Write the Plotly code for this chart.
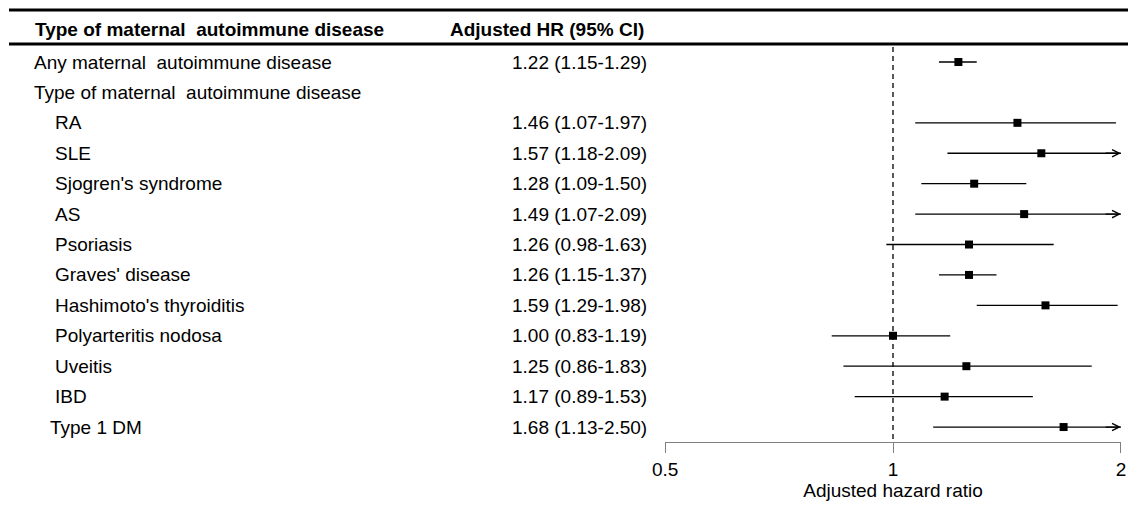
import math
import plotly.graph_objects as go

# ---------------- data ----------------
labels = [
    "Any maternal\u00a0 autoimmune disease",
    "Type of maternal\u00a0 autoimmune disease",
    "RA",
    "SLE",
    "Sjogren's syndrome",
    "AS",
    "Psoriasis",
    "Graves' disease",
    "Hashimoto's thyroiditis",
    "Polyarteritis nodosa",
    "Uveitis",
    "IBD",
    "Type 1 DM",
]
hr = [1.22, None, 1.46, 1.57, 1.28, 1.49, 1.26, 1.26, 1.59, 1.00, 1.25, 1.17, 1.68]
ci_low = [1.15, None, 1.07, 1.18, 1.09, 1.07, 0.98, 1.15, 1.29, 0.83, 0.86, 0.89, 1.13]
ci_high = [1.29, None, 1.97, 2.09, 1.50, 2.09, 1.63, 1.37, 1.98, 1.19, 1.83, 1.53, 2.50]
hr_text = [
    "1.22 (1.15-1.29)", "", "1.46 (1.07-1.97)", "1.57 (1.18-2.09)",
    "1.28 (1.09-1.50)", "1.49 (1.07-2.09)", "1.26 (0.98-1.63)",
    "1.26 (1.15-1.37)", "1.59 (1.29-1.98)", "1.00 (0.83-1.19)",
    "1.25 (0.86-1.83)", "1.17 (0.89-1.53)", "1.68 (1.13-2.50)",
]
tick_vals = [0.5, 1, 2]
tick_text = ["0.5", "1", "2"]
x_min, x_max = 0.5, 2.0
header_left = "Type of maternal\u00a0 autoimmune disease"
header_mid = "Adjusted HR (95% CI)"
x_title = "Adjusted hazard ratio"

# ---------------- layout geometry ----------------
W, H = 1128, 527
FIRST_PX, ROW_PX, AXIS_PX = 62.0, 30.42, 442.0
def row_of(px):
    return (px - FIRST_PX) / ROW_PX

label_px = [32, 32, 53, 53, 53, 53, 53, 53, 53, 53, 53, 53, 48]
FONT = "Liberation Sans, Arial, Helvetica, sans-serif"
FS = 19
EPS = 1e-4
rows = list(range(len(labels)))

fig = go.Figure()

# reference dashed line at 1
fig.add_trace(go.Scatter(
    x=[1, 1], y=[row_of(47), row_of(AXIS_PX)], mode="lines",
    line=dict(color="black", width=1.3, dash="5px,4px"),
    hoverinfo="skip", showlegend=False, cliponaxis=False))

# CI lines
for i in rows:
    if hr[i] is None:
        continue
    lo = max(ci_low[i], x_min)
    hi = min(ci_high[i], x_max)
    fig.add_trace(go.Scatter(
        x=[lo, hi], y=[i, i], mode="lines",
        line=dict(color="black", width=1.3),
        hoverinfo="skip", showlegend=False, cliponaxis=False))
    if ci_high[i] > x_max:
        fig.add_annotation(
            x=math.log10(x_max), y=i, ax=math.log10(x_max * 0.95), ay=i,
            xref="x", yref="y", axref="x", ayref="y", text="",
            showarrow=True, arrowhead=5, arrowsize=1.1, arrowwidth=1.3,
            arrowcolor="black")

# point estimates
pts = [i for i in rows if hr[i] is not None]
fig.add_trace(go.Scatter(
    x=[hr[i] for i in pts], y=pts, mode="markers",
    marker=dict(symbol="square", size=8, color="black"),
    hoverinfo="skip", showlegend=False, cliponaxis=False))

# text columns
for i in rows:
    fig.add_annotation(
        x=label_px[i] / W, y=i, xref="paper", yref="y", text=labels[i],
        showarrow=False, xanchor="left", yanchor="middle",
        font=dict(family=FONT, size=FS, color="black"))
    if hr_text[i]:
        fig.add_annotation(
            x=649 / W, y=i, xref="paper", yref="y", text=hr_text[i],
            showarrow=False, xanchor="right", yanchor="middle",
            font=dict(family=FONT, size=FS, color="black"))

# headers
hdr_row = row_of(29)
fig.add_annotation(x=33 / W, y=hdr_row, xref="paper", yref="y",
                   text="<b>" + header_left + "</b>", showarrow=False,
                   xanchor="left", yanchor="middle",
                   font=dict(family=FONT, size=FS, color="black"))
fig.add_annotation(x=448 / W, y=hdr_row, xref="paper", yref="y",
                   text="<b>" + header_mid + "</b>", showarrow=False,
                   xanchor="left", yanchor="middle",
                   font=dict(family=FONT, size=FS, color="black"))

# horizontal rules
for py in (10, 44):
    fig.add_shape(type="line", xref="paper", yref="paper",
                  x0=9 / W, x1=1, y0=1 - py / H, y1=1 - py / H,
                  line=dict(color="black", width=3))

fig.update_layout(
    width=W, height=H,
    margin=dict(l=0, r=0, t=0, b=0),
    paper_bgcolor="white", plot_bgcolor="white",
    font=dict(family=FONT, size=FS, color="black"),
    xaxis=dict(
        type="log", domain=[665 / W, 1121 / W],
        range=[math.log10(x_min) - EPS, math.log10(x_max) + EPS],
        tickvals=tick_vals, ticktext=tick_text,
        ticks="outside", ticklen=10, tickwidth=1, tickcolor="#808080",
        showline=True, linecolor="#808080", linewidth=1,
        showgrid=False, zeroline=False,
        tickfont=dict(family=FONT, size=FS, color="black"),
        title=dict(text=x_title, font=dict(family=FONT, size=FS, color="black"),
                   standoff=4),
        automargin=False, fixedrange=True,
    ),
    yaxis=dict(
        domain=[(H - AXIS_PX) / H, 1],
        range=[row_of(AXIS_PX), row_of(0)],
        visible=False, showgrid=False, zeroline=False, fixedrange=True,
    ),
)

fig.write_html(
    "out.html",
    config={"displayModeBar": False},
    post_script="document.body.style.margin='0';document.body.style.padding='0';",
)
